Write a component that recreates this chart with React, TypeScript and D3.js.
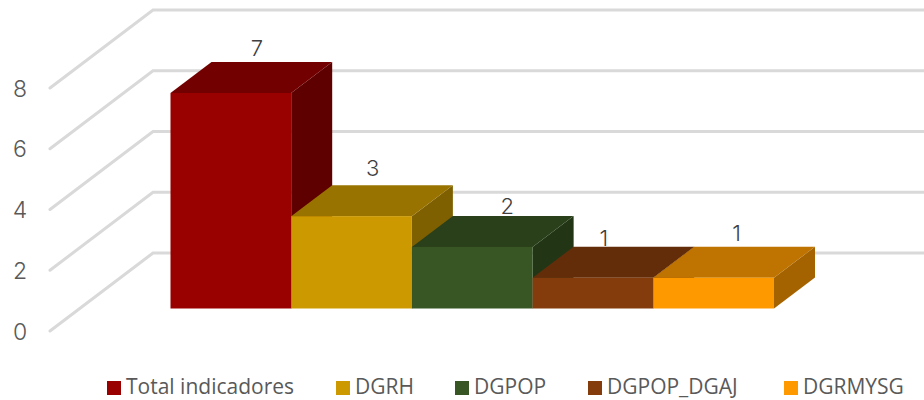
import React from "react";
import * as d3 from "d3";

const categories = ["Total indicadores", "DGRH", "DGPOP", "DGPOP_DGAJ", "DGRMYSG"];
const values = [7, 3, 2, 1, 1];
const yTicks = [0, 2, 4, 6, 8];
const frontColors = ["#990000", "#cc9900", "#375623", "#843c0c", "#ff9900"];
const topColors = ["#720000", "#997300", "#29401a", "#632d09", "#bf7300"];
const sideColors = ["#5f0000", "#7f6000", "#223616", "#522507", "#a56300"];

// layout
const legendX = [107, 336, 455, 588, 784];
const labelDx = [26, 21, 35, 11, 23];
const labelDy = [6, 9, 2, 1, 6];

const W = 924;
const H = 400;
const depthX = 41;
const depthY = 31;
const wallDepthX = 103;
const wallDepthY = 78;

const App: React.FC = () => {
  const x = d3.scaleBand<string>().domain(categories).range([170.5, 774]);
  // bars sit on the floor, inset from the front of the walls
  const yBar = d3.scaleLinear().domain([0, 7]).range([308.5, 93]);
  const yWall = d3.scaleLinear().domain([0, 8]).range([331, 88]);
  const path = d3.line();

  return (
    <svg
      width={W}
      height={H}
      style={{ position: "absolute", left: 0, top: 0, background: "#fff" }}
    >
      {yTicks.map((t) => (
        <g key={t}>
          <path
            d={
              path([
                [50, yWall(t)],
                [50 + wallDepthX, yWall(t) - wallDepthY],
                [W, yWall(t) - wallDepthY],
              ])!
            }
            fill="none"
            stroke="#d9d9d9"
            strokeWidth={3}
            strokeLinecap="round"
          />
          <text
            x={20}
            y={yWall(t) + 8.5}
            textAnchor="middle"
            fontFamily="Inter, 'Open Sans', sans-serif"
            fontSize={23}
            fontWeight={300}
            fill="#595959"
          >
            {t}
          </text>
        </g>
      ))}

      {categories.map((c, i) => {
        const x0 = x(c)!;
        const x1 = x0 + x.bandwidth();
        const y0 = yBar(0);
        const y1 = yBar(values[i]);
        return (
          <g key={c}>
            <path
              d={
                path([
                  [x1, y1],
                  [x1 + depthX, y1 - depthY],
                  [x1 + depthX, y0 - depthY],
                  [x1, y0],
                ])! + "Z"
              }
              fill={sideColors[i]}
            />
            <path
              d={
                path([
                  [x0, y1],
                  [x0 + depthX, y1 - depthY],
                  [x1 + depthX, y1 - depthY],
                  [x1, y1],
                ])! + "Z"
              }
              fill={topColors[i]}
            />
            <rect x={x0} y={y1} width={x.bandwidth()} height={y0 - y1} fill={frontColors[i]} />
          </g>
        );
      })}

      {categories.map((c, i) => (
        <text
          key={c}
          x={x(c)! + x.bandwidth() / 2 + labelDx[i]}
          y={yBar(values[i]) - depthY - labelDy[i]}
          textAnchor="middle"
          fontFamily="Inter, 'Open Sans', sans-serif"
          fontSize={22}
          fontWeight={300}
          fill="#404040"
        >
          {values[i]}
        </text>
      ))}

      {categories.map((c, i) => (
        <g key={c}>
          <rect x={legendX[i]} y={381} width={14} height={14} fill={frontColors[i]} />
          <text
            x={legendX[i] + 19}
            y={394}
            fontFamily="'Open Sans', sans-serif"
            fontSize={21}
            fill="#595959"
          >
            {c}
          </text>
        </g>
      ))}
    </svg>
  );
};

export default App;
